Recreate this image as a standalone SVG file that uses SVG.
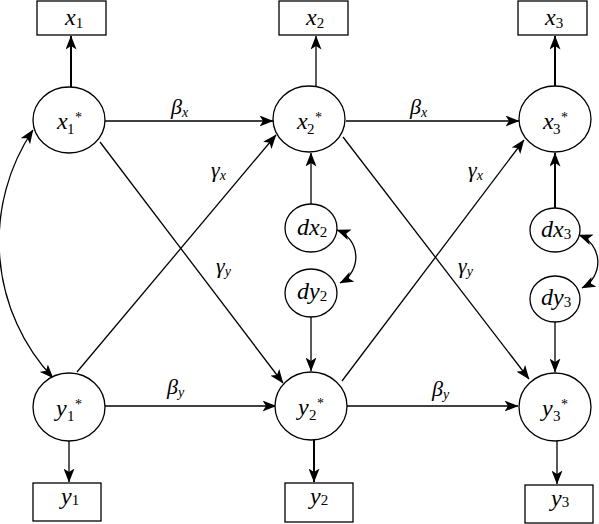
<svg xmlns="http://www.w3.org/2000/svg" width="599" height="524" viewBox="0 0 599 524" font-family="Liberation Serif, Times New Roman, serif">
<defs>
<marker id="ah" viewBox="0 0 14 11" markerWidth="14" markerHeight="11" refX="13.5" refY="5.5" orient="auto-start-reverse" markerUnits="userSpaceOnUse">
<path d="M0,0 L14,5.5 L0,11 L3.5,5.5 z" fill="#000"/>
</marker>
</defs>
<style>
.n{fill:#fff;stroke:#000;stroke-width:1.3}
.c{fill:none;stroke:#000;stroke-width:1.3}
.t{fill:none;stroke:#000;stroke-width:2}
.l{font-style:italic;font-size:24px}
.s{font-style:normal;font-size:15px}
.st{font-style:normal;font-size:14px}
.g{font-style:italic;font-size:22px}
.gs{font-style:italic;font-size:14px}
</style>
<rect width="599" height="524" fill="#fff"/>
<g id="connectors">
<line class="t" x1="71" y1="87" x2="71" y2="36" marker-end="url(#ah)"/>
<line class="c" x1="316" y1="86" x2="316" y2="36" marker-end="url(#ah)"/>
<line class="t" x1="555" y1="86" x2="555" y2="36" marker-end="url(#ah)"/>
<line class="c" x1="105" y1="121" x2="273" y2="121" marker-end="url(#ah)"/>
<line class="c" x1="346" y1="121" x2="519" y2="121" marker-end="url(#ah)"/>
<line class="c" x1="105" y1="406" x2="276" y2="406" marker-end="url(#ah)"/>
<line class="c" x1="347" y1="406" x2="518" y2="406" marker-end="url(#ah)"/>
<line class="c" x1="100" y1="142" x2="283" y2="383" marker-end="url(#ah)"/>
<line class="c" x1="77" y1="372" x2="276" y2="135" marker-end="url(#ah)"/>
<line class="c" x1="343" y1="137" x2="529" y2="379" marker-end="url(#ah)"/>
<line class="c" x1="342" y1="381" x2="524" y2="140" marker-end="url(#ah)"/>
<line class="c" x1="311" y1="204" x2="311" y2="153" marker-end="url(#ah)"/>
<line class="c" x1="311" y1="317" x2="311" y2="371" marker-end="url(#ah)"/>
<line class="t" x1="555" y1="209" x2="555" y2="153" marker-end="url(#ah)"/>
<line class="c" x1="555" y1="322" x2="555" y2="372" marker-end="url(#ah)"/>
<line class="c" x1="69" y1="441" x2="69" y2="482" marker-end="url(#ah)"/>
<line class="t" x1="314" y1="440" x2="314" y2="482" marker-end="url(#ah)"/>
<line class="c" x1="557" y1="440" x2="557" y2="484" marker-end="url(#ah)"/>
<path class="c" d="M33,130 A200,200 0 0 0 53,378" marker-start="url(#ah)" marker-end="url(#ah)"/>
<path class="c" d="M337,230 A29,29 0 0 1 340,283" marker-start="url(#ah)" marker-end="url(#ah)"/>
<path class="c" d="M579,235 A29,29 0 0 1 582,288" marker-start="url(#ah)" marker-end="url(#ah)"/>
<text class="g" x="171" y="114">β<tspan class="gs" dy="3">x</tspan></text>
<text class="g" x="410" y="114">β<tspan class="gs" dy="3">x</tspan></text>
<text class="g" x="167" y="394">β<tspan class="gs" dy="3">y</tspan></text>
<text class="g" x="432" y="396">β<tspan class="gs" dy="3">y</tspan></text>
<text class="g" x="211" y="177">γ<tspan class="gs" dy="3">x</tspan></text>
<text class="g" x="216" y="273">γ<tspan class="gs" dy="3">y</tspan></text>
<text class="g" x="468" y="177">γ<tspan class="gs" dy="3">x</tspan></text>
<text class="g" x="458" y="273">γ<tspan class="gs" dy="3">y</tspan></text>
</g>
<g id="box-x1"><rect class="n" x="37" y="1" width="69" height="34"/><text class="l" x="65" y="25">x<tspan class="s" dy="3">1</tspan></text></g>
<g id="box-x2"><rect class="n" x="279" y="1" width="69" height="34"/><text class="l" x="306" y="25">x<tspan class="s" dy="3">2</tspan></text></g>
<g id="box-x3"><rect class="n" x="518" y="1" width="69" height="34"/><text class="l" x="545" y="25">x<tspan class="s" dy="3">3</tspan></text></g>
<g id="box-y1"><rect class="n" x="33" y="483" width="68" height="38"/><text class="l" x="61" y="504">y<tspan class="s" dy="1">1</tspan></text></g>
<g id="box-y2"><rect class="n" x="285" y="483" width="68" height="39"/><text class="l" x="310" y="504">y<tspan class="s" dy="1">2</tspan></text></g>
<g id="box-y3"><rect class="n" x="525" y="485" width="68" height="38"/><text class="l" x="551" y="506">y<tspan class="s" dy="1">3</tspan></text></g>
<g id="node-x1s"><ellipse class="n" cx="69" cy="120" rx="36" ry="33"/><text class="l" x="57" y="129">x<tspan class="s" x="67" y="134">1</tspan><tspan class="st" x="75" y="122">*</tspan></text></g>
<g id="node-x2s"><ellipse class="n" cx="309" cy="119" rx="36" ry="33"/><text class="l" x="297" y="129">x<tspan class="s" x="307" y="134">2</tspan><tspan class="st" x="315" y="122">*</tspan></text></g>
<g id="node-x3s"><ellipse class="n" cx="555" cy="119" rx="36" ry="33"/><text class="l" x="543" y="129">x<tspan class="s" x="553" y="134">3</tspan><tspan class="st" x="561" y="122">*</tspan></text></g>
<g id="node-y1s"><ellipse class="n" cx="69" cy="407" rx="36" ry="34"/><text class="l" x="56" y="416">y<tspan class="s" x="67" y="421">1</tspan><tspan class="st" x="75" y="409">*</tspan></text></g>
<g id="node-y2s"><ellipse class="n" cx="311" cy="406" rx="36" ry="34"/><text class="l" x="298" y="415">y<tspan class="s" x="309" y="420">2</tspan><tspan class="st" x="317" y="408">*</tspan></text></g>
<g id="node-y3s"><ellipse class="n" cx="555" cy="407" rx="36" ry="34"/><text class="l" x="542" y="416">y<tspan class="s" x="553" y="421">3</tspan><tspan class="st" x="561" y="409">*</tspan></text></g>
<g id="node-dx2"><ellipse class="n" cx="311" cy="228" rx="26" ry="24"/><text class="l" x="297" y="235">dx<tspan class="s" dy="2">2</tspan></text></g>
<g id="node-dy2"><ellipse class="n" cx="311" cy="293" rx="26" ry="24"/><text class="l" x="297" y="299">dy<tspan class="s" dy="2">2</tspan></text></g>
<g id="node-dx3"><ellipse class="n" cx="555" cy="230" rx="25" ry="22"/><text class="l" x="541" y="237">dx<tspan class="s" dy="2">3</tspan></text></g>
<g id="node-dy3"><ellipse class="n" cx="555" cy="299" rx="25" ry="23"/><text class="l" x="541" y="305">dy<tspan class="s" dy="2">3</tspan></text></g>
</svg>
